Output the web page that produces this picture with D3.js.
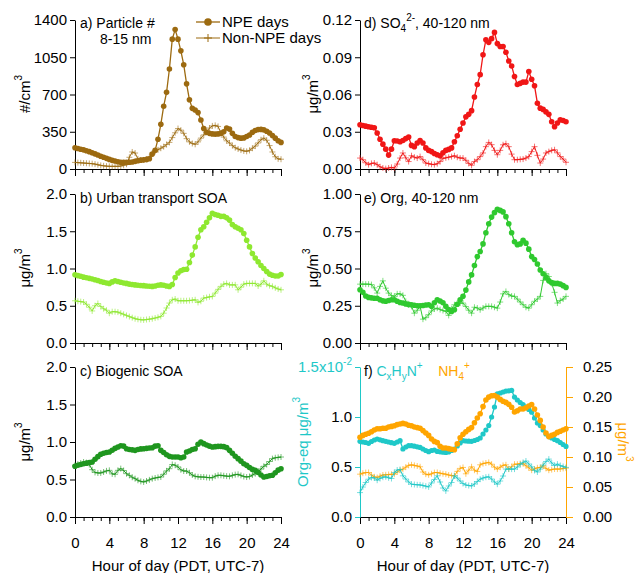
<!DOCTYPE html>
<html>
<head>
<meta charset="utf-8">
<script src="https://cdn.jsdelivr.net/npm/d3@7"></script>
<style>
  html, body { margin: 0; padding: 0; background: #fff; }
  svg { display: block; font-family: Arial, "Liberation Sans", sans-serif; }
  .axis text { font-size: 15px; fill: #000; }
</style>
</head>
<body>
<svg id="chart" width="635" height="573"></svg>
<script>
// Diurnal profiles on a 20-minute grid, 0 h to 24 h (73 values each)

// a) Particle number 8-15 nm, #/cm3
const particleNPE = [
  200,193,186, 180,172,163, 152,142,132, 120,110,100, 90,82,75, 68,64,62,
  62,63,66, 72,78,83, 86,90,96, 140,175,280, 420,590,720, 940,1220,1310,
  1220,1110,980, 800,650,570, 555,530,460, 380,345,335, 330,328,330, 335,350,385,
  375,335,305, 295,290,292, 305,320,345, 362,370,372, 368,355,338, 315,290,265, 250];
const particleNon = [
  62,60,58, 56,54,52, 50,46,40, 34,30,27, 25,25,25, 25,28,35,
  45,110,160, 150,95,85, 85,90,115, 150,165,180, 195,210,230, 250,295,340,
  380,365,335, 285,255,240, 232,255,290, 320,350,385, 405,410,400, 340,300,265,
  244,220,200, 188,178,170, 166,175,195, 215,245,275, 290,270,220, 160,115,95, 92];

// b) Urban transport SOA, ug/m3
const urbanNPE = [
  0.915,0.905,0.895, 0.884,0.875,0.868, 0.860,0.850,0.838, 0.826,0.815,0.805,
  0.800,0.820,0.835, 0.826,0.815,0.805, 0.800,0.790,0.785, 0.780,0.775,0.772,
  0.770,0.765,0.762, 0.760,0.765,0.775, 0.780,0.775,0.765, 0.760,0.785,0.880,
  0.940,0.970,0.985, 0.990,1.080,1.180, 1.290,1.420,1.520, 1.560,1.620,1.680,
  1.740,1.725,1.715, 1.700,1.700,1.680, 1.650,1.590,1.560, 1.540,1.520,1.470,
  1.380,1.290,1.200, 1.140,1.090,1.040, 1.000,0.960,0.925, 0.910,0.900,0.900, 0.920];
const urbanNon = [
  0.567,0.560,0.555, 0.550,0.520,0.480, 0.430,0.500,0.530, 0.490,0.460,0.440,
  0.400,0.420,0.420, 0.415,0.400,0.385, 0.370,0.355,0.340, 0.326,0.318,0.312,
  0.310,0.315,0.320, 0.326,0.335,0.345, 0.357,0.400,0.470, 0.536,0.580,0.590,
  0.567,0.567,0.567, 0.567,0.570,0.575, 0.580,0.545,0.560, 0.603,0.610,0.620,
  0.625,0.670,0.720, 0.760,0.790,0.800, 0.780,0.780,0.780, 0.714,0.750,0.790,
  0.800,0.800,0.800, 0.800,0.765,0.790, 0.835,0.790,0.770, 0.760,0.740,0.725, 0.714];

// c) Biogenic SOA, ug/m3
const biogenicNPE = [
  0.676,0.690,0.700, 0.710,0.718,0.725, 0.733,0.770,0.805, 0.836,0.850,0.860,
  0.867,0.890,0.915, 0.933,0.950,0.945, 0.911,0.900,0.895, 0.889,0.900,0.908,
  0.911,0.915,0.920, 0.924,0.945,0.950, 0.889,0.860,0.830, 0.809,0.800,0.800,
  0.800,0.791,0.800, 0.867,0.880,0.900, 0.911,0.970,1.000, 0.978,0.960,0.945,
  0.933,0.938,0.942, 0.942,0.938,0.925, 0.889,0.850,0.810, 0.778,0.745,0.710,
  0.689,0.660,0.635, 0.622,0.595,0.560, 0.533,0.540,0.550, 0.556,0.590,0.625, 0.644];
const biogenicNon = [
  0.689,0.705,0.720, 0.733,0.725,0.700, 0.631,0.595,0.587, 0.587,0.600,0.615,
  0.622,0.575,0.570, 0.622,0.645,0.620, 0.578,0.555,0.530, 0.511,0.490,0.475,
  0.467,0.480,0.495, 0.511,0.520,0.528, 0.533,0.570,0.615, 0.644,0.700,0.690,
  0.667,0.630,0.613, 0.613,0.590,0.560, 0.542,0.536,0.533, 0.533,0.528,0.524,
  0.524,0.545,0.556, 0.556,0.550,0.545, 0.542,0.555,0.565, 0.569,0.555,0.540,
  0.533,0.540,0.560, 0.578,0.605,0.640, 0.676,0.700,0.740, 0.778,0.790,0.795, 0.800];

// d) Sulfate 40-120 nm, ug/m3
const sulfateNPE = [
  0.0356,0.0350,0.0345, 0.0340,0.0336,0.0332, 0.0290,0.0240,0.0200, 0.0160,0.0112,0.0160,
  0.0228,0.0225,0.0220, 0.0230,0.0245,0.0257, 0.0190,0.0180,0.0210, 0.0230,0.0210,0.0170,
  0.0150,0.0140,0.0125, 0.0115,0.0107,0.0130, 0.0150,0.0158,0.0170, 0.0220,0.0268,0.0320,
  0.0370,0.0420,0.0440, 0.0470,0.0580,0.0680, 0.0760,0.0920,0.1040, 0.1020,0.1050,0.1100,
  0.1010,0.0986,0.0986, 0.0940,0.0870,0.0830, 0.0745,0.0680,0.0690, 0.0700,0.0700,0.0785,
  0.0723,0.0670,0.0530, 0.0490,0.0480,0.0460, 0.0440,0.0380,0.0340, 0.0370,0.0396,0.0390, 0.0380];
const sulfateNon = [
  0.0088,0.0075,0.0050, 0.0035,0.0045,0.0048, 0.0035,0.0018,0.0008, 0.0003,0.0008,0.0013,
  0.0008,0.0040,0.0088, 0.0129,0.0090,0.0060, 0.0107,0.0095,0.0088, 0.0100,0.0075,0.0048,
  0.0043,0.0038,0.0035, 0.0043,0.0060,0.0085, 0.0090,0.0095,0.0100, 0.0107,0.0095,0.0088,
  0.0088,0.0070,0.0045, 0.0030,0.0060,0.0075, 0.0100,0.0129,0.0180, 0.0214,0.0196,0.0150,
  0.0115,0.0150,0.0195, 0.0204,0.0180,0.0120, 0.0075,0.0075,0.0078, 0.0080,0.0088,0.0100,
  0.0140,0.0180,0.0110, 0.0048,0.0080,0.0129, 0.0140,0.0150,0.0155, 0.0130,0.0100,0.0080, 0.0054];

// e) Organics 40-120 nm, ug/m3
const orgNPE = [
  0.357,0.340,0.315, 0.306,0.303,0.300, 0.300,0.290,0.283, 0.280,0.285,0.290,
  0.290,0.280,0.272, 0.268,0.262,0.259, 0.257,0.253,0.250, 0.250,0.252,0.255,
  0.257,0.246,0.270, 0.290,0.282,0.270, 0.246,0.225,0.212, 0.223,0.260,0.290,
  0.313,0.355,0.410, 0.457,0.520,0.580, 0.614,0.665,0.740, 0.800,0.845,0.875,
  0.897,0.890,0.880, 0.848,0.800,0.740, 0.680,0.660,0.665, 0.690,0.670,0.630,
  0.580,0.560,0.530, 0.490,0.465,0.440, 0.417,0.405,0.400, 0.400,0.395,0.385, 0.373];
const orgNon = [
  0.395,0.395,0.395, 0.395,0.392,0.370, 0.335,0.380,0.417, 0.368,0.335,0.318,
  0.313,0.330,0.330, 0.320,0.280,0.255, 0.246,0.200,0.220, 0.246,0.160,0.170,
  0.190,0.215,0.228, 0.234,0.225,0.218, 0.212,0.185,0.230, 0.257,0.268,0.268,
  0.268,0.245,0.220, 0.200,0.240,0.235, 0.223,0.235,0.246, 0.246,0.246,0.240,
  0.234,0.275,0.330, 0.346,0.325,0.315, 0.313,0.295,0.275, 0.257,0.240,0.234,
  0.257,0.280,0.295, 0.313,0.420,0.465, 0.446,0.400,0.340, 0.268,0.285,0.295, 0.313];

// f) CxHyN+ (Org-eq ug/m3, left axis) and NH4+ (ug/m3, right axis)
const cxhynNPE = [
  0.00757,0.00750,0.00745, 0.00737,0.00755,0.00770, 0.00780,0.00772,0.00763, 0.00757,0.00750,0.00743,
  0.00737,0.00750,0.00763, 0.00680,0.00700,0.00713, 0.00713,0.00708,0.00702, 0.00696,0.00680,0.00665,
  0.00653,0.00665,0.00670, 0.00656,0.00652,0.00648, 0.00646,0.00650,0.00665, 0.00680,0.00710,0.00740,
  0.00763,0.00760,0.00758, 0.00757,0.00765,0.00775, 0.00790,0.00830,0.00870, 0.00914,0.01000,0.01100,
  0.01232,0.01240,0.01250, 0.01259,0.01262,0.01266, 0.01199,0.01170,0.01145, 0.01125,0.01100,0.01075,
  0.01048,0.00990,0.00940, 0.00914,0.00870,0.00830, 0.00804,0.00790,0.00775, 0.00763,0.00745,0.00725, 0.00706];
const cxhynNon = [
  0.00244,0.00300,0.00345, 0.00378,0.00395,0.00390, 0.00368,0.00385,0.00398, 0.00402,0.00392,0.00385,
  0.00445,0.00470,0.00475, 0.00412,0.00380,0.00350, 0.00328,0.00325,0.00322, 0.00321,0.00315,0.00308,
  0.00301,0.00340,0.00375, 0.00412,0.00350,0.00290, 0.00261,0.00310,0.00345, 0.00412,0.00390,0.00360,
  0.00335,0.00320,0.00315, 0.00311,0.00330,0.00355, 0.00378,0.00390,0.00398, 0.00402,0.00380,0.00350,
  0.00328,0.00360,0.00410, 0.00479,0.00480,0.00479, 0.00479,0.00500,0.00525, 0.00546,0.00560,0.00530,
  0.00502,0.00465,0.00450, 0.00479,0.00520,0.00555, 0.00579,0.00540,0.00515, 0.00529,0.00515,0.00505, 0.00496];
const ammoniumNPE = [
  0.133,0.136,0.138, 0.1395,0.142,0.145, 0.147,0.147,0.148, 0.148,0.150,0.151,
  0.152,0.154,0.155, 0.156,0.155,0.153, 0.152,0.150,0.149, 0.148,0.144,0.140,
  0.136,0.130,0.126, 0.124,0.118,0.115, 0.115,0.114,0.113, 0.112,0.122,0.132,
  0.138,0.142,0.146, 0.149,0.157,0.165, 0.172,0.184,0.195, 0.1998,0.202,0.2026,
  0.1998,0.196,0.193, 0.191,0.188,0.183, 0.175,0.177,0.180, 0.180,0.182,0.185,
  0.1875,0.180,0.170, 0.161,0.150,0.140, 0.134,0.136,0.138, 0.141,0.143,0.145, 0.147];
const ammoniumNon = [
  0.0714,0.073,0.074, 0.0742,0.070,0.067, 0.0658,0.068,0.070, 0.0703,0.0708,0.0712,
  0.0714,0.075,0.078, 0.0798,0.083,0.086, 0.087,0.086,0.085, 0.0837,0.075,0.0714,
  0.0703,0.072,0.074, 0.0742,0.073,0.072, 0.0714,0.070,0.069, 0.0686,0.076,0.081,
  0.0826,0.072,0.078, 0.0837,0.078,0.0759, 0.087,0.089,0.090, 0.091,0.088,0.083,
  0.0798,0.083,0.086, 0.087,0.0798,0.084, 0.088,0.088,0.089, 0.089,0.0854,0.082,
  0.078,0.080,0.082, 0.0826,0.0854,0.081, 0.078,0.079,0.080, 0.0798,0.080,0.081, 0.0815];

// Axis ticks
const hourMajorTicks = [0, 4, 8, 12, 16, 20, 24];
const hourMinorTicks = d3.range(0, 25);
const particleTicks = [0, 350, 700, 1050, 1400];
const soaTicks = [0, 0.5, 1.0, 1.5, 2.0];
const sulfateTicks = [0, 0.03, 0.06, 0.09, 0.12];
const orgTicks = [0, 0.25, 0.5, 0.75, 1.0];
const cxhynTicks = [0, 0.005, 0.010, 0.015];
const ammoniumTicks = [0, 0.05, 0.10, 0.15, 0.20, 0.25];

// 20-minute time grid
const hours = d3.range(73).map(i => i * 20 / 60);

const C = {
  brown: "#9c6a10",
  red: "#f01616",
  lime: "#8ee830",
  green: "#2fc92f",
  dkgreen: "#1f961f",
  cyan: "#1fc8c8",
  orange: "#ffa500"
};

const svg = d3.select("#chart");
const PW = 206;
const COLS = [75, 360];
const ROWS = [[20, 169], [194, 343], [367, 517]];
const TITLE_SIZE = 14;

function makePanel(col, row, yDomain, yTicks, yFmt, showXLabels, axisColor) {
  const x0 = COLS[col], [top, bottom] = ROWS[row];
  const g = svg.append("g").attr("transform", `translate(${x0},${top})`);
  const h = bottom - top;
  const x = d3.scaleLinear().domain([0, 24]).range([0, PW]);
  const y = d3.scaleLinear().domain(yDomain).range([h, 0]);

  // x axis: minor hourly ticks + major 4-hour ticks
  g.append("g").attr("class", "axis").attr("transform", `translate(0,${h})`)
    .call(d3.axisBottom(x).tickValues(hourMinorTicks).tickSize(4).tickSizeOuter(0).tickFormat(""));
  g.append("g").attr("class", "axis").attr("transform", `translate(0,${h})`)
    .call(d3.axisBottom(x).tickValues(hourMajorTicks).tickSize(7).tickSizeOuter(0).tickPadding(13)
      .tickFormat(showXLabels ? d3.format("d") : ""));

  const ya = g.append("g").attr("class", "axis")
    .call(d3.axisLeft(y).tickValues(yTicks).tickSize(5).tickSizeOuter(0).tickPadding(3).tickFormat(yFmt));
  if (axisColor) {
    ya.selectAll("path, line").attr("stroke", axisColor);
    ya.selectAll("text").attr("fill", axisColor);
  }
  svg.selectAll(".axis path, .axis line").attr("stroke-width", 1);
  return { g, x, y, h };
}

function drawNPE(p, vals, color, y, r) {
  const yy = y || p.y;
  const pts = hours.map((hh, i) => [p.x(hh), yy(vals[i])]);
  p.g.append("path").attr("d", d3.line()(pts))
    .attr("fill", "none").attr("stroke", color).attr("stroke-width", 1.3);
  p.g.append("g").selectAll("circle").data(pts).join("circle")
    .attr("cx", d => d[0]).attr("cy", d => d[1]).attr("r", r || 2.8)
    .attr("fill", color);
}

function drawNon(p, vals, color, y) {
  const yy = y || p.y;
  const pts = hours.map((hh, i) => [p.x(hh), yy(vals[i])]);
  p.g.append("path").attr("d", d3.line()(pts))
    .attr("fill", "none").attr("stroke", color).attr("stroke-width", 1);
  p.g.append("g").selectAll("path").data(pts).join("path")
    .attr("d", d => `M${d[0] - 3},${d[1]}H${d[0] + 3}M${d[0]},${d[1] - 3}V${d[1] + 3}`)
    .attr("stroke", color).attr("stroke-width", 1).attr("stroke-opacity", 0.6);
}

function yLabel(x, yc, parts, color, rot) {
  const t = svg.append("text")
    .attr("transform", `translate(${x},${yc}) rotate(${rot || -90})`)
    .attr("text-anchor", "middle").attr("font-size", 15).attr("fill", color || "#000");
  parts.forEach(([s, kind]) => {
    const ts = t.append("tspan").text(s);
    if (kind === "sup") ts.attr("font-size", 10).attr("dy", -8);
  });
  return t;
}

function richText(x, y, parts, anchor, size) {
  const t = svg.append("text").attr("x", x).attr("y", y).attr("font-size", size || TITLE_SIZE)
    .attr("text-anchor", anchor || "start");
  let shift = 0;
  parts.forEach(p => {
    const ts = t.append("tspan").text(p.t).attr("fill", p.c || "#000");
    let target = 0;
    if (p.k === "sup") { ts.attr("font-size", 10); target = -7; }
    if (p.k === "sub") { ts.attr("font-size", 10); target = 4; }
    if (target - shift !== 0) ts.attr("dy", target - shift);
    shift = target;
  });
  return t;
}

// ---- a) Particle number
const pa = makePanel(0, 0, [0, 1400], particleTicks, d3.format("d"), false);
drawNon(pa, particleNon, C.brown);
drawNPE(pa, particleNPE, C.brown);
richText(80, 28, [{ t: "a) Particle #" }]);
richText(100, 44, [{ t: "8-15 nm" }]);
yLabel(30, 94, [["#/cm"], ["3", "sup"]]);

// legend
const lg = svg.append("g");
lg.append("line").attr("x1", 196).attr("x2", 220).attr("y1", 22).attr("y2", 22)
  .attr("stroke", C.brown).attr("stroke-width", 1.3);
lg.append("circle").attr("cx", 208).attr("cy", 22).attr("r", 3.8).attr("fill", C.brown);
lg.append("text").attr("x", 222).attr("y", 27).attr("font-size", 15).text("NPE days");
lg.append("line").attr("x1", 196).attr("x2", 220).attr("y1", 38).attr("y2", 38)
  .attr("stroke", C.brown).attr("stroke-width", 1);
lg.append("path").attr("d", "M204,38H212M208,34V42").attr("stroke", C.brown).attr("stroke-width", 1);
lg.append("text").attr("x", 222).attr("y", 43).attr("font-size", 15).text("Non-NPE days");

// ---- b) Urban transport SOA
const pb = makePanel(0, 1, [0, 2], soaTicks, d3.format(".1f"), false);
drawNon(pb, urbanNon, C.lime);
drawNPE(pb, urbanNPE, C.lime);
richText(80, 203, [{ t: "b) Urban transport SOA" }]);
yLabel(30, 268, [["μg/m"], ["3", "sup"]]);

// ---- c) Biogenic SOA
const pc = makePanel(0, 2, [0, 2], soaTicks, d3.format(".1f"), true);
drawNon(pc, biogenicNon, C.dkgreen);
drawNPE(pc, biogenicNPE, C.dkgreen);
richText(80, 376, [{ t: "c) Biogenic SOA" }]);
yLabel(30, 442, [["μg/m"], ["3", "sup"]]);

// ---- d) Sulfate
const pd = makePanel(1, 0, [0, 0.12], sulfateTicks, d3.format(".2f"), false);
drawNon(pd, sulfateNon, C.red);
drawNPE(pd, sulfateNPE, C.red);
richText(364, 28, [{ t: "d) SO" }, { t: "4", k: "sub" }, { t: "2-", k: "sup" }, { t: ", 40-120 nm" }]);
yLabel(318, 94, [["μg/m"], ["3", "sup"]]);

// ---- e) Organics
const pe = makePanel(1, 1, [0, 1], orgTicks, d3.format(".2f"), false);
drawNon(pe, orgNon, C.green);
drawNPE(pe, orgNPE, C.green);
richText(364, 203, [{ t: "e) Org, 40-120 nm" }]);
yLabel(318, 268, [["μg/m"], ["3", "sup"]]);

// ---- f) CxHyN+ and NH4+
const pf = makePanel(1, 2, [0, 0.015], cxhynTicks,
  d => d === 0.015 ? "" : d3.format(".1f")(d * 100), true, C.cyan);
const yR = d3.scaleLinear().domain([0, 0.25]).range([pf.h, 0]);
const ra = pf.g.append("g").attr("class", "axis").attr("transform", `translate(${PW},0)`)
  .call(d3.axisRight(yR).tickValues(ammoniumTicks).tickSize(7).tickSizeOuter(0).tickPadding(10)
    .tickFormat(d3.format(".2f")));
ra.selectAll("path, line").attr("stroke", C.orange).attr("stroke-width", 1);
ra.selectAll("text").attr("fill", C.orange);

drawNon(pf, ammoniumNon, C.orange, yR);
drawNon(pf, cxhynNon, C.cyan);
drawNPE(pf, cxhynNPE, C.cyan, null, 2.6);
drawNPE(pf, ammoniumNPE, C.orange, yR, 2.8);

// top tick label of the left axis in scientific form
richText(352, 372, [{ t: "1.5x10", c: C.cyan }, { t: "-2", k: "sup", c: C.cyan }], "end", 15);
richText(364, 376, [
  { t: "f) " },
  { t: "C", c: C.cyan }, { t: "x", k: "sub", c: C.cyan },
  { t: "H", c: C.cyan }, { t: "y", k: "sub", c: C.cyan },
  { t: "N", c: C.cyan }, { t: "+", k: "sup", c: C.cyan },
  { t: "\u00a0\u00a0\u00a0\u00a0NH", c: C.orange }, { t: "4", k: "sub", c: C.orange },
  { t: "+", k: "sup", c: C.orange }
]);
yLabel(308, 442, [["Org-eq μg/m"], ["3", "sup"]], C.cyan);
yLabel(618, 442, [["μg/m"], ["3", "sup"]], C.orange, 90);

// x-axis titles
svg.append("text").attr("x", 178).attr("y", 571).attr("text-anchor", "middle")
  .attr("font-size", 15).text("Hour of day (PDT, UTC-7)");
svg.append("text").attr("x", 463).attr("y", 571).attr("text-anchor", "middle")
  .attr("font-size", 15).text("Hour of day (PDT, UTC-7)");
</script>
</body>
</html>
